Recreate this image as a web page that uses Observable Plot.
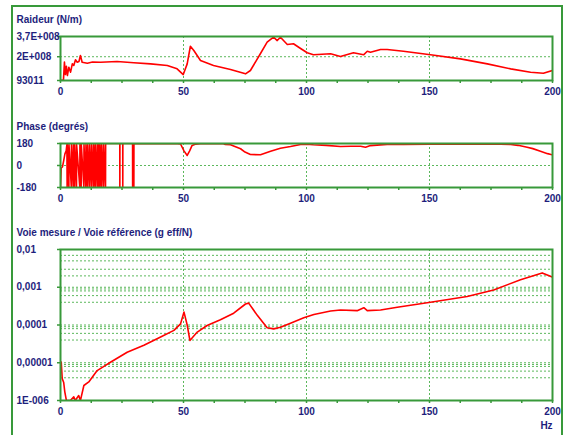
<!DOCTYPE html>
<html><head><meta charset="utf-8">
<script src="https://cdn.jsdelivr.net/npm/d3@7"></script>
<script src="https://cdn.jsdelivr.net/npm/@observablehq/plot@0.6"></script>
<style>
body{margin:0;background:#fff;}
#wrap{position:relative;width:570px;height:435px;overflow:hidden;background:#fff;}
#outer{position:absolute;left:11px;top:5px;width:552px;height:480px;border:2px solid #38993a;box-sizing:border-box;}
#wrap svg{position:absolute;left:0;}
</style></head><body>
<div id="wrap"><div id="outer"></div></div>
<script>
// ---------- data ----------
const titles = ["Raideur (N/m)", "Phase (degrés)", "Voie mesure / Voie référence (g eff/N)"];
const xTicks = [0,12.5,25,37.5,50,62.5,75,87.5,100,112.5,125,137.5,150,162.5,175,187.5,200];
const xGrid = [50,100,150];

// Raideur (N/m)
const stiffHz  = [0,1.2,1.6,2.0,2.4,2.8,3.4,4.1,4.8,5.4,6.1,6.8,7.5,8.1,8.8,10.9,13,16.3,23,29.8,36.6,43.4,47.4,49.9,51.5,52.8,54.2,56.9,62.2,69.1,75.2,77.2,81.3,84.0,86.6,88.1,89.4,92.2,94.7,97.6,100.3,102.8,109.8,113.8,119.1,123.2,124.7,126,130.1,132.8,139.4,150.4,162.6,173.5,183,191.1,196.3,199.9];
const stiffVal = [0.01e8,0.02e8,1.55e8,0.5e8,1.2e8,0.42e8,1.12e8,0.70e8,1.40e8,1.26e8,1.74e8,1.54e8,1.6e8,2.10e8,1.54e8,1.45e8,1.55e8,1.54e8,1.60e8,1.49e8,1.40e8,1.26e8,0.98e8,0.50e8,1.40e8,2.88e8,2.52e8,1.68e8,1.26e8,0.93e8,0.56e8,0.84e8,2.27e8,3.22e8,3.64e8,3.36e8,3.64e8,3.03e8,3.09e8,2.69e8,2.33e8,2.16e8,2.25e8,2.02e8,2.33e8,2.16e8,2.46e8,2.38e8,2.61e8,2.61e8,2.46e8,2.16e8,1.82e8,1.40e8,0.98e8,0.70e8,0.61e8,0.84e8];
const stiffTicks = [93011, 2e8, 3.7e8];
const stiffLabels = ["93011", "2E+008", "3,7E+008"];

// Phase (degrés): [Hz, degrés]
const phase = [
 [0,-178],[0.3,-20],[0.8,-12],[1.3,40],[1.8,95],[2.3,120],[2.6,172],
 [2.7,-178],[2.75,172],[3.4,-178],[3.45,172],[4.4,-178],[4.45,172],[5.2,-178],[5.25,172],
 [5.7,-178],[5.75,172],[6.5,-178],[6.55,172],[7.85,-178],[7.9,172],[8.4,-178],[8.45,172],
 [9.5,-178],[9.55,172],[10.3,-178],[10.35,172],[11.0,-178],[11.05,172],[11.8,-178],[11.85,172],
 [12.6,-178],[12.65,172],[13.4,-178],[13.45,172],[14.1,-178],[14.15,172],[14.9,-178],[14.95,172],
 [15.4,-178],[15.45,172],[16.0,-178],[16.05,172],[16.7,-178],[16.75,172],[17.5,-178],[17.55,172],
 [18.3,-178],[18.35,180],[24.1,180],[24.12,-178],[24.15,180],[25.3,180],[25.32,-178],[25.35,180],
 [29.3,180],[29.32,-178],[29.35,180],[29.8,180],[29.82,-178],[29.85,180],
 [47.5,178],[48.8,176],[50.2,120],[51.5,82],[52.5,120],[53.5,164],[55,175],[56.9,178],
 [66,180],[67,172],[69.1,170],[73.2,137],[75,110],[77.2,90],[81.3,88],[85.4,117],[89.4,141],
 [93.5,155],[97.6,172],[100,175],[102.8,170],[108,165],[113.8,155],[118,158],[122,158],[124,150],
 [126,163],[130,169],[132.8,172],[139.4,172],[150,174],[166.7,174],[175,176],[183,172],[186,165],
 [189.7,150],[192,138],[195.1,117],[198,97],[200,87]
];
const phaseTicks = [-180, 0, 180];
const phaseLabels = ["-180", "0", "180"];

// Voie mesure / Voie référence (g eff/N)
const ratioHz  = [0.3,0.7,1.3,1.75,2.4,4,5.4,6,7.4,8.1,9.5,11.5,14.9,18.3,20.3,27.1,33.9,40.7,46.1,48.8,50.2,51.5,52.6,55.6,59.6,65,70.4,75.2,76.5,80,84,86.7,89.4,93.5,98.9,103,109.8,113.8,120.6,123.3,124.7,130.1,136.9,150.4,165.3,176.1,187,195.8,199.9];
const ratioVal = [1.05e-5,3.8e-6,3.0e-6,1.7e-6,1.0e-6,1.0e-6,1.25e-6,1.0e-6,1.35e-6,1.0e-6,2.5e-6,3.1e-6,6.2e-6,8.5e-6,1.03e-5,1.9e-5,2.9e-5,4.8e-5,7.2e-5,1.07e-4,2.2e-4,1.0e-4,3.9e-5,6.5e-5,9.7e-5,1.37e-4,2.05e-4,3.6e-4,3.8e-4,1.8e-4,8.5e-5,7.9e-5,8.7e-5,1.12e-4,1.55e-4,1.9e-4,2.34e-4,2.5e-4,2.4e-4,2.87e-4,2.4e-4,2.5e-4,2.95e-4,4.0e-4,5.7e-4,8.5e-4,1.58e-3,2.4e-3,1.86e-3];
const ratioTicks = [1e-6, 1e-5, 1e-4, 1e-3, 1e-2];
const ratioLabels = ["1E-006", "0,00001", "0,0001", "0,001", "0,01"];
const ratioGrid = [7e-3,5e-3,3e-3,2e-3, 1e-3,9e-4,8e-4,6e-4,4e-4, 1e-4,9e-5,8e-5,6e-5,4e-5, 1e-5,9e-6,8e-6,6e-6,4e-6];

// ---------- style ----------
const GREEN = "#38993a", GRID = "#5cb85c", NAVY = "#1e1e7c", RED = "#ff0000";
const FONT = "'Liberation Sans', Arial, sans-serif";

function makePanel({top, height, mt, mb, yScale, yTicks, yLabels, yGrid, lineData, title, hz}) {
  const marks = [
    Plot.ruleX(xGrid, {stroke: GRID, strokeDasharray: "2,2", strokeWidth: 1}),
    Plot.ruleY(yGrid, {stroke: GRID, strokeDasharray: "2,2", strokeWidth: 1}),
    Plot.line(lineData, {x: "f", y: "v", stroke: RED, strokeWidth: 1.6, clip: true}),
    Plot.frame({stroke: GREEN, strokeWidth: 2}),
    Plot.axisX({ticks: xTicks, tickFormat: d => (d % 50 === 0 ? String(d) : ""), tickSize: 3, tickPadding: 4, stroke: GREEN, strokeWidth: 1.5, fill: NAVY, label: null}),
    Plot.axisY({ticks: yTicks, tickFormat: () => "", tickSize: 3, stroke: GREEN, strokeWidth: 1.5, label: null}),
    Plot.text(yTicks, {y: d => d, text: (d, i) => yLabels[i], frameAnchor: "left", textAnchor: "start", dx: -44, fill: NAVY}),
    Plot.text([title], {frameAnchor: "top-left", textAnchor: "start", lineAnchor: "middle", dx: -44, dy: -17, fill: NAVY})
  ];
  if (hz) marks.push(Plot.text(["Hz"], {frameAnchor: "bottom-right", textAnchor: "middle", lineAnchor: "middle", dx: -6, dy: 25, fill: NAVY}));
  const svg = Plot.plot({
    width: 570, height, marginLeft: 60, marginRight: 18, marginTop: mt, marginBottom: mb,
    x: {domain: [0, 200], axis: null},
    y: {...yScale, axis: null},
    style: {fontFamily: FONT, fontSize: "10px", fontWeight: "bold", color: NAVY, background: "transparent", overflow: "visible"},
    marks
  });
  svg.style.top = top + "px";
  document.getElementById("wrap").appendChild(svg);
}

makePanel({
  top: 0, height: 105, mt: 36, mb: 25,
  yScale: {domain: [93011, 3.7e8]},
  yTicks: stiffTicks, yLabels: stiffLabels, yGrid: [2e8],
  lineData: stiffHz.map((f, i) => ({f, v: stiffVal[i]})),
  title: titles[0]
});
makePanel({
  top: 105, height: 105, mt: 38, mb: 23,
  yScale: {domain: [-180, 180]},
  yTicks: phaseTicks, yLabels: phaseLabels, yGrid: [0],
  lineData: phase.map(([f, v]) => ({f, v})),
  title: titles[1]
});
makePanel({
  top: 210, height: 225, mt: 39, mb: 35,
  yScale: {type: "log", domain: [1e-6, 1e-2]},
  yTicks: ratioTicks, yLabels: ratioLabels, yGrid: ratioGrid,
  lineData: ratioHz.map((f, i) => ({f, v: ratioVal[i]})),
  title: titles[2], hz: true
});
</script>
</body></html>
